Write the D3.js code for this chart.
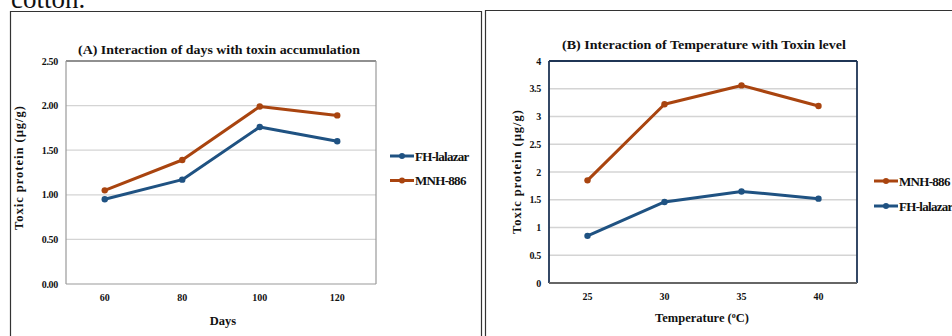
<!DOCTYPE html>
<html>
<head>
<meta charset="utf-8">
<script src="https://cdn.jsdelivr.net/npm/d3@7"></script>
<style>
  body { margin: 0; background: #fff; }
  svg { display: block; }
  text { font-family: "Liberation Serif", "Times New Roman", serif; font-weight: bold; fill: #111; }
</style>
</head>
<body>
<svg id="fig" width="952" height="336"></svg>
<script>
// panel A: days
var daysCats = ["60", "80", "100", "120"],
	daysFH = [0.95, 1.17, 1.76, 1.60],
	daysMNH = [1.05, 1.39, 1.99, 1.89],
	daysTicks = [0, 0.5, 1, 1.5, 2, 2.5];

// panel B: temperature
var tempCats = ["25", "30", "35", "40"],
	tempMNH = [1.85, 3.22, 3.56, 3.19],
	tempFH = [0.85, 1.46, 1.65, 1.52],
	tempTicks = [0, 0.5, 1, 1.5, 2, 2.5, 3, 3.5, 4];

var blue = "#1f5282", orange = "#a9440f";

var svg = d3.select("#fig");

// caption text above the panels, cut off by the top edge as in the source
svg.append("text").attr("x", 11).attr("y", 8)
	.style("font-weight", "normal").style("font-size", "27px")
	.text("cotton.");

// panel frames
svg.append("path").attr("d", "M10.5,336 V11.5 H481.5 V336")
	.attr("fill", "none").attr("stroke", "#333").attr("stroke-width", 1.2);
svg.append("path").attr("d", "M485.5,336 V10.5 H952")
	.attr("fill", "none").attr("stroke", "#333").attr("stroke-width", 1.2);

function drawChart(opt) {
	var g = svg.append("g");
	var x = d3.scalePoint().domain(opt.cats).range([opt.left, opt.right]).padding(0.5);
	var y = d3.scaleLinear().domain([0, opt.ymax]).range([opt.bottom, opt.top]);

	// gridlines
	g.selectAll("line.grid").data(opt.ticks.slice(1, -1)).enter().append("line")
		.attr("x1", opt.left).attr("x2", opt.right)
		.attr("y1", function(d){ return y(d); }).attr("y2", function(d){ return y(d); })
		.attr("stroke", "#d4d4d4").attr("stroke-width", 1.3);

	// plot border
	g.append("line").attr("x1", opt.left).attr("x2", opt.right).attr("y1", opt.top).attr("y2", opt.top)
		.attr("stroke", opt.topCol).attr("stroke-width", opt.bw);
	g.append("line").attr("x1", opt.right).attr("x2", opt.right).attr("y1", opt.top).attr("y2", opt.bottom)
		.attr("stroke", opt.rightCol).attr("stroke-width", opt.bw);
	g.append("line").attr("x1", opt.left).attr("x2", opt.left).attr("y1", opt.top).attr("y2", opt.bottom)
		.attr("stroke", opt.leftCol).attr("stroke-width", opt.bw);
	g.append("line").attr("x1", opt.left).attr("x2", opt.right).attr("y1", opt.bottom).attr("y2", opt.bottom)
		.attr("stroke", opt.bottomCol).attr("stroke-width", opt.bw);

	// y tick labels
	g.selectAll("text.yt").data(opt.ticks).enter().append("text")
		.attr("x", opt.left - 8).attr("y", function(d){ return y(d) + 3.5; })
		.attr("text-anchor", "end").style("font-size", "10px").style("letter-spacing", "-0.3px")
		.text(function(d){ return opt.yfmt(d); });

	// x tick labels
	g.selectAll("text.xt").data(opt.cats).enter().append("text")
		.attr("x", function(d){ return x(d); }).attr("y", opt.bottom + 17)
		.attr("text-anchor", "middle").style("font-size", "10px")
		.text(function(d){ return d; });

	// title
	g.append("text").attr("x", opt.titleX).attr("y", opt.titleY)
		.attr("text-anchor", "middle").style("font-size", "13.5px")
		.attr("textLength", opt.titleW).attr("lengthAdjust", "spacingAndGlyphs")
		.text(opt.title);

	// axis titles
	var xt = g.append("text").attr("x", opt.xtX).attr("y", opt.xtY)
		.attr("text-anchor", "middle").style("font-size", "12.5px");
	if (opt.xtSup) {
		xt.append("tspan").text(opt.xtitle);
		xt.append("tspan").attr("dy", -4).style("font-size", "8px").text(opt.xtSup);
		xt.append("tspan").attr("dy", 4).text("C)");
	} else {
		xt.text(opt.xtitle);
	}
	g.append("text")
		.attr("transform", "translate(" + opt.ytX + "," + opt.ytY + ") rotate(-90)")
		.attr("text-anchor", "middle").style("font-size", "12.5px")
		.attr("textLength", 124).attr("lengthAdjust", "spacing")
		.text("Toxic protein (\u00b5g/g)");

	// series
	var line = d3.line().x(function(d, i){ return x(opt.cats[i]); }).y(function(d){ return y(d); });
	opt.series.forEach(function(s) {
		g.append("path").datum(s.values).attr("d", line)
			.attr("fill", "none").attr("stroke", s.color).attr("stroke-width", 3)
			.attr("stroke-linejoin", "round");
		g.selectAll(null).data(s.values).enter().append("circle")
			.attr("cx", function(d, i){ return x(opt.cats[i]); })
			.attr("cy", function(d){ return y(d); })
			.attr("r", 3.2).attr("fill", s.color);
	});

	// legend
	opt.series.forEach(function(s, i) {
		var ly = opt.legY + i * opt.legGap;
		g.append("line").attr("x1", opt.legX).attr("x2", opt.legX + 24)
			.attr("y1", ly).attr("y2", ly).attr("stroke", s.color).attr("stroke-width", 3);
		g.append("circle").attr("cx", opt.legX + 12).attr("cy", ly).attr("r", 3).attr("fill", s.color);
		g.append("text").attr("x", opt.legX + 25).attr("y", ly + 4.5)
			.style("font-size", "13px").style("letter-spacing", "-0.7px").text(s.name);
	});
}

drawChart({
	cats: daysCats, ymax: 2.5, ticks: daysTicks,
	left: 66, right: 376, top: 61, bottom: 284,
	yfmt: d3.format(".2f"),
	topCol: "#222", rightCol: "#999", leftCol: "#999", bottomCol: "#999", bw: 1.2,
	title: "(A) Interaction of days with toxin accumulation", titleX: 219, titleY: 54, titleW: 282,
	xtitle: "Days", xtX: 223, xtY: 325,
	ytX: 23, ytY: 168,
	series: [{name: "FH-lalazar", values: daysFH, color: blue},
		{name: "MNH-886", values: daysMNH, color: orange}],
	legX: 390, legY: 156, legGap: 24.5
});

drawChart({
	cats: tempCats, ymax: 4, ticks: tempTicks,
	left: 549, right: 857, top: 61, bottom: 283,
	yfmt: function(d){ return String(d); },
	topCol: "#1f3555", rightCol: "#1f3555", leftCol: "#1f3555", bottomCol: "#666", bw: 1.8,
	title: "(B) Interaction of Temperature with Toxin level", titleX: 704, titleY: 49, titleW: 284,
	xtitle: "Temperature (", xtSup: "o", xtX: 702, xtY: 322,
	ytX: 521, ytY: 172,
	series: [{name: "MNH-886", values: tempMNH, color: orange},
		{name: "FH-lalazar", values: tempFH, color: blue}],
	legX: 874, legY: 181, legGap: 25
});
</script>
</body>
</html>
